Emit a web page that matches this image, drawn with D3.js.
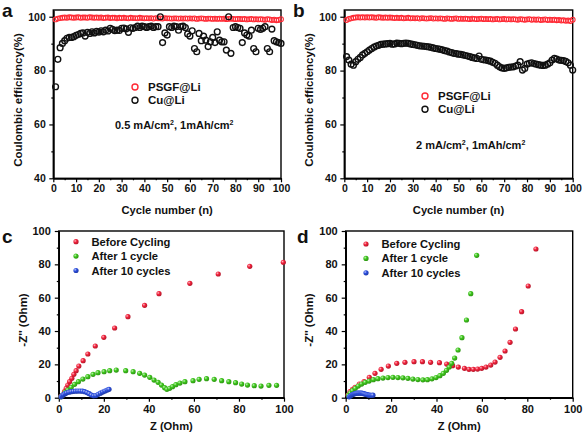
<!DOCTYPE html>
<html><head><meta charset="utf-8">
<script src="https://cdn.jsdelivr.net/npm/d3@7/dist/d3.min.js"></script>
<style>
html,body{margin:0;padding:0;background:#fff;}
svg{display:block;font-family:"Liberation Sans",Arial,sans-serif;font-weight:bold;}
</style></head><body>
<svg id="chart" width="584" height="437"></svg>
<script>
// ---------- DATA ----------
const cycles = d3.range(1, 101);
const psgfA = [99.0,99.3,99.5,99.6,99.7,99.6,99.8,99.7,99.6,99.7, 99.8,99.6,99.7,99.7,99.6,99.8,99.7,99.6,99.7,99.6,
  99.7,99.5,99.6,99.7,99.5,99.6,99.6,99.4,99.6,99.5, 99.6,99.5,99.4,99.6,99.5,99.5,99.4,99.6,99.5,99.4,
  99.5,99.4,99.5,99.3,99.5,99.4,99.4,99.3,99.5,99.4, 99.4,99.3,99.4,99.4,99.3,99.4,99.3,99.4,99.3,99.4,
  99.3,99.4,99.2,99.3,99.4,99.3,99.2,99.3,99.3,99.2, 99.3,99.2,99.3,99.2,99.3,99.1,99.2,99.3,99.2,99.1,
  99.2,99.2,99.1,99.2,99.0,99.1,99.2,99.0,99.1,99.0, 99.1,99.0,98.9,99.1,99.0,98.8,98.9,98.7,98.8,99.1];
const cuA = [74.0,84.2,88.5,90.1,91.1,92.0,92.3,92.3,92.6,93.1, 93.4,93.8,94.0,92.8,94.2,93.8,94.4,94.0,94.6,94.3,
  94.8,94.4,95.0,94.7,95.7,95.3,94.8,95.0,94.9,95.7, 95.8,95.5,94.2,95.9,95.7,96.0,96.5,96.0,96.5,96.3,
  96.0,96.3,96.5,96.0,96.3,96.3,100.0,90.4,94.0,93.2, 96.3,96.0,96.5,96.3,95.0,96.3,96.5,96.0,93.6,92.8,
  94.8,88.2,87.0,93.8,91.1,92.8,91.3,88.9,90.7,92.3, 90.4,94.4,91.3,90.7,90.7,87.6,100.0,86.4,96.0,96.3,
  96.0,95.7,90.4,94.0,93.2,92.8,95.0,88.2,87.0,95.7, 95.3,95.7,96.3,88.2,87.0,95.4,91.1,90.7,90.4,90.1];
const psgfB = [98.8,99.2,99.4,99.6,99.7,99.8,99.7,99.8,99.7,99.8, 99.7,99.8,99.7,99.6,99.8,99.7,99.6,99.7,99.6,99.7,
  99.6,99.5,99.6,99.5,99.6,99.4,99.5,99.6,99.4,99.5, 99.4,99.5,99.3,99.5,99.4,99.3,99.4,99.5,99.3,99.4,
  99.3,99.4,99.3,99.2,99.4,99.3,99.2,99.3,99.4,99.2, 99.3,99.2,99.3,99.2,99.1,99.3,99.2,99.1,99.2,99.3,
  99.1,99.2,99.1,99.2,99.0,99.1,99.2,99.0,99.1,99.2, 99.0,99.1,99.0,99.1,99.0,98.9,99.1,99.0,98.9,99.0,
  99.1,98.9,99.0,98.9,99.0,98.8,98.9,99.0,98.8,98.9, 98.8,98.9,98.7,98.8,98.6,98.7,98.5,98.6,98.4,98.9];
const cuB = [85.2,83.9,82.4,82.0,83.3,84.2,84.9,85.8,86.4,87.0, 87.6,88.2,88.7,89.1,89.4,89.7,89.8,89.9,90.0,90.1,
  89.8,89.9,90.2,90.1,90.0,90.1,90.2,90.1,89.9,89.7, 89.6,89.4,89.2,89.1,89.0,88.9,88.8,88.6,88.4,88.2,
  88.1,87.9,87.7,87.4,87.2,86.9,86.7,86.4,86.3,86.1, 86.0,85.8,85.6,85.4,85.2,84.9,84.7,84.5,85.4,84.2,
  84.0,83.9,83.7,83.5,83.1,82.7,82.0,81.4,81.0,80.8, 81.0,81.2,81.3,81.4,81.7,82.0,83.3,80.2,80.8,82.4,
  82.7,82.9,82.6,82.4,82.2,82.0,81.9,82.0,82.4,82.9, 83.9,84.5,84.3,83.9,83.8,83.7,83.4,82.9,82.0,80.2];

// EIS panel c  [Z', -Z'']
const cBefore = [[0.9,0.8],[1.8,1.6],[2.5,3.6],[3.3,5.6],[4.0,7.6],[4.8,9.6],[5.8,11.6],[6.7,14.0],[7.7,16.2],
  [8.9,19.0],[10.8,22.2],[12.9,26.2],[16.2,31.0],[20.0,36.2],[24.8,41.8],[30.7,48.6],[38.1,55.4],[44.5,62.4],
  [58.2,68.6],[70.8,74.2],[84.8,78.8],[99.7,81.2]];
const cAfter1 = [[1.0,0.6],[1.8,1.6],[2.8,3.2],[4.0,4.6],[5.5,6.2],[7.0,8.0],[8.7,9.6],[10.7,11.2],[12.9,12.6],
  [15.2,14.0],[17.4,15.0],[20.1,15.6],[22.6,16.2],[25.5,16.6],[29.7,16.2],[33.0,15.6],[35.9,14.6],[38.1,13.6],
  [40.4,12.2],[42.3,10.6],[44.1,9.2],[45.6,7.6],[47.0,6.0],[48.0,5.0],[49.2,5.6],[50.5,6.6],[52.0,7.8],[53.8,8.8],
  [56.0,9.6],[59.6,10.2],[62.3,11.0],[65.6,11.4],[69.0,11.0],[72.3,10.2],[75.5,9.6],[78.5,9.0],[81.2,8.2],
  [83.8,7.6],[86.8,7.2],[89.8,7.0],[93.3,7.4],[96.7,7.4]];
const cAfter10 = [[1.0,0.5],[1.5,1.2],[2.0,1.8],[2.8,2.4],[3.5,2.9],[4.5,3.3],[5.5,3.6],[6.5,3.8],[7.5,3.9],
  [8.5,4.0],[9.5,4.0],[10.5,3.9],[11.5,3.6],[12.5,3.1],[13.5,2.4],[14.5,1.6],[15.5,1.1],[16.5,1.3],[17.5,2.0],
  [18.5,2.7],[19.5,3.4],[20.5,4.0],[21.5,4.6],[22.3,5.0]];
// EIS panel d
const dBefore = [[1.0,1.6],[1.9,3.6],[3.0,5.0],[4.1,6.2],[6.0,8.2],[8.1,9.6],[10.4,12.2],[12.9,14.6],[15.6,17.0],
  [18.8,19.0],[22.5,20.6],[26.1,21.2],[30.1,21.6],[33.8,21.6],[37.4,21.2],[41.3,21.0],[44.5,20.2],[47.1,19.2],
  [49.6,18.4],[52.3,17.6],[54.3,17.0],[56.2,17.0],[58.1,17.2],[59.9,17.6],[61.8,18.4],[63.9,19.6],[65.8,21.4],
  [68.0,24.2],[70.2,28.0],[72.4,33.2],[74.8,41.2],[77.5,51.6],[80.4,67.0],[83.8,89.2]];
const dAfter1 = [[1.2,1.4],[2.0,2.8],[3.0,4.2],[4.2,5.6],[5.5,7.0],[7.0,8.2],[8.6,9.2],[10.3,10.0],[12.2,10.8],
  [14.2,11.4],[16.4,11.8],[18.6,12.1],[20.8,12.2],[23.0,12.1],[25.2,11.9],[27.4,11.6],[29.6,11.2],[31.8,10.9],
  [34.0,10.7],[36.0,10.8],[38.0,11.3],[39.8,12.1],[41.5,13.2],[43.0,14.6],[44.4,16.4],[45.6,18.4],[46.7,20.6],
  [48.0,23.8],[49.5,28.6],[51.2,36.0],[53.2,46.6],[55.1,62.4],[57.7,85.4]];
const dAfter10 = [[1.5,0.5],[2.0,1.0],[2.5,1.5],[3.0,1.9],[3.5,2.2],[4.0,2.4],[4.5,2.6],[5.0,2.7],[5.5,2.8],
  [6.0,2.8],[6.5,2.8],[7.0,2.7],[7.5,2.6],[8.0,2.4],[8.5,2.2],[9.0,2.0],[9.5,1.8],[10.0,1.6],[10.5,1.5],
  [11.0,1.4],[11.5,1.4],[12.0,1.5]];

const ceTicks = [0,10,20,30,40,50,60,70,80,90,100];
const ceMinorX = [5,15,25,35,45,55,65,75,85,95];
const ceYTicks = [40,60,80,100];
const ceYMinor = [50,70,90];
const eisTicks = [0,20,40,60,80,100];
const eisMinor = [10,30,50,70,90];
const eisSeries = ["Before Cycling","After 1 cycle","After 10 cycles"];
const eisColors = ["#f2213b","#3ec81c","#2b4ee0"];

// ---------- DRAW ----------
const svg = d3.select("#chart");
const FONT = '"Liberation Sans", Arial, sans-serif';
const defs = svg.append("defs");
eisColors.forEach((c,i)=>{
  const gr = defs.append("radialGradient").attr("id","ball"+i).attr("cx","35%").attr("cy","35%").attr("r","65%");
  gr.append("stop").attr("offset","0%").attr("stop-color", d3.interpolateRgb(c,"#fff")(0.7));
  gr.append("stop").attr("offset","45%").attr("stop-color", c);
  gr.append("stop").attr("offset","100%").attr("stop-color", d3.color(c).darker(0.8));
});

function frame(cfg){
  const g = svg.append("g");
  const x = d3.scaleLinear().domain(cfg.xd).range([cfg.x0,cfg.x1]);
  const y = d3.scaleLinear().domain(cfg.yd).range([cfg.y1,cfg.y0]);
  const styleAxis = sel => {
    sel.attr("font-family", FONT).attr("font-size", cfg.fs).attr("font-weight","bold");
    sel.selectAll("path").attr("stroke","#000").attr("stroke-width",1.4);
    sel.selectAll("line").attr("stroke","#000").attr("stroke-width",1.2);
    sel.selectAll("text").attr("fill","#111");
  };
  g.append("g").attr("transform",`translate(0,${cfg.y1})`)
    .call(d3.axisBottom(x).tickValues(cfg.xMinor).tickSize(2).tickSizeOuter(0).tickFormat("")).call(styleAxis);
  g.append("g").attr("transform",`translate(0,${cfg.y1})`)
    .call(d3.axisBottom(x).tickValues(cfg.xMajor).tickSize(4).tickSizeOuter(0).tickPadding(cfg.xpad).tickFormat(d3.format("d"))).call(styleAxis);
  g.append("g").attr("transform",`translate(${cfg.x0},0)`)
    .call(d3.axisLeft(y).tickValues(cfg.yMinor).tickSize(2).tickSizeOuter(0).tickFormat("")).call(styleAxis);
  g.append("g").attr("transform",`translate(${cfg.x0},0)`)
    .call(d3.axisLeft(y).tickValues(cfg.yMajor).tickSize(4).tickSizeOuter(0).tickPadding(cfg.ypad).tickFormat(d3.format("d"))).call(styleAxis);
  g.append("rect").attr("x",cfg.x0).attr("y",cfg.y0).attr("width",cfg.x1-cfg.x0).attr("height",cfg.y1-cfg.y0)
    .attr("fill","none").attr("stroke","#000").attr("stroke-width",1.4);
  // titles
  g.append("text").attr("x",(cfg.x0+cfg.x1)/2).attr("y",cfg.xtY).attr("text-anchor","middle")
    .attr("font-size",11.2).attr("fill","#111").text(cfg.xt);
  g.append("text").attr("transform",`translate(${cfg.ytX},${cfg.ytYc}) rotate(-90)`).attr("text-anchor","middle")
    .attr("font-size",cfg.ytFs).attr("fill","#111").text(cfg.yt);
  g.append("text").attr("x",cfg.lx).attr("y",cfg.ly).attr("font-size",19).attr("fill","#111").text(cfg.letter);
  return {g,x,y};
}

function cePanel(cfg, psgf, cu, cond){
  const {g,x,y} = frame(Object.assign({xd:[0,100], yd:[40,102.5], xMajor:ceTicks, xMinor:ceMinorX,
    yMajor:ceYTicks, yMinor:ceYMinor, fs:10.5, xpad:2, ypad:3.5,
    xt:"Cycle number (n)", yt:"Coulombic efficiency(%)", ytFs:11.5}, cfg));
  g.append("g").selectAll("circle").data(cycles).join("circle")
    .attr("cx",(d)=>x(d)).attr("cy",(d,i)=>y(psgf[i])).attr("r",2.4)
    .attr("fill","none").attr("stroke","#ff2a35").attr("stroke-width",1.1);
  g.append("g").selectAll("circle").data(cycles).join("circle")
    .attr("cx",(d)=>x(d)).attr("cy",(d,i)=>y(cu[i])).attr("r",2.9)
    .attr("fill","none").attr("stroke","#111").attr("stroke-width",1.4);
  // legend
  g.append("circle").attr("cx",cfg.legX).attr("cy",cfg.legY).attr("r",3).attr("fill","none").attr("stroke","#ff2a35").attr("stroke-width",1.4);
  g.append("circle").attr("cx",cfg.legX).attr("cy",cfg.legY+13.3).attr("r",3).attr("fill","none").attr("stroke","#111").attr("stroke-width",1.4);
  g.append("text").attr("x",cfg.legX+13).attr("y",cfg.legY+4).attr("font-size",11.5).attr("fill","#111").text("PSGF@Li");
  g.append("text").attr("x",cfg.legX+13).attr("y",cfg.legY+17.3).attr("font-size",11.5).attr("fill","#111").text("Cu@Li");
  const t = g.append("text").attr("x",cfg.condX).attr("y",cfg.condY).attr("font-size",11).attr("fill","#111");
  t.append("tspan").text(cond + " mA/cm");
  t.append("tspan").attr("font-size",7).attr("dy",-4).text("2");
  t.append("tspan").attr("dy",4).text(", 1mAh/cm");
  t.append("tspan").attr("font-size",7).attr("dy",-4).text("2");
}

function eisPanel(cfg, series){
  const {g,x,y} = frame(Object.assign({xd:[0,100], yd:[0,100], xMajor:eisTicks, xMinor:eisMinor,
    yMajor:eisTicks, yMinor:eisMinor, fs:11, xpad:3.5, ypad:4,
    xt:"Z (Ohm)", yt:"-Z'' (Ohm)", ytFs:11.5}, cfg));
  series.forEach((s,i)=>{
    g.append("g").selectAll("circle").data(s).join("circle")
      .attr("cx",d=>x(d[0])).attr("cy",d=>y(d[1])).attr("r",2.6)
      .attr("fill",`url(#ball${i})`);
  });
  eisSeries.forEach((name,i)=>{
    g.append("circle").attr("cx",cfg.legX).attr("cy",cfg.legY+i*14.4).attr("r",2.6).attr("fill",`url(#ball${i})`);
    g.append("text").attr("x",cfg.legX+15.5).attr("y",cfg.legY+i*14.4+4).attr("font-size",11.2).attr("fill","#111").text(name);
  });
}

cePanel({x0:53.3,x1:281,y0:10,y1:178.3, xtY:214, ytX:22, ytYc:100, lx:2, ly:17, letter:"a",
  legX:135, legY:87, condX:115, condY:128.5}, psgfA, cuA, "0.5");
cePanel({x0:344.3,x1:572.7,y0:10,y1:178.3, xtY:214, ytX:313, ytYc:100, lx:293, ly:17, letter:"b",
  legX:425, legY:96, condX:416, condY:148.5}, psgfB, cuB, "2");
eisPanel({x0:58.8,x1:284,y0:231,y1:397.7, xtY:430, ytX:27, ytYc:320, lx:2, ly:243, letter:"c",
  legX:76, legY:241.7}, [cBefore,cAfter1,cAfter10]);
eisPanel({x0:345.7,x1:572.7,y0:231,y1:397.7, xtY:430, ytX:313, ytYc:320, lx:297, ly:243, letter:"d",
  legX:366, legY:244}, [dBefore,dAfter1,dAfter10]);
</script>
</body></html>
